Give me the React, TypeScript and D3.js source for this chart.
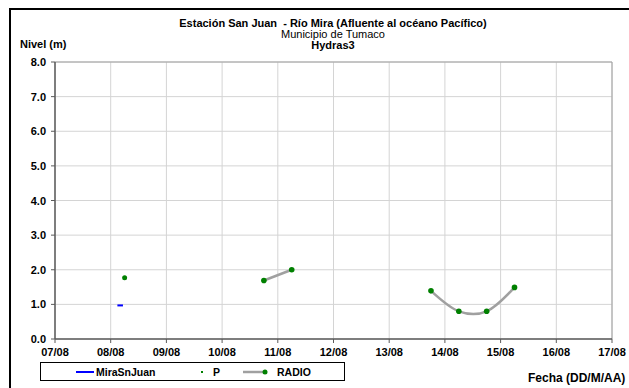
import React from "react";
import * as d3 from "d3";

const yTicks = [0, 1, 2, 3, 4, 5, 6, 7, 8];
const xTickLabels = ["07/08", "08/08", "09/08", "10/08", "11/08", "12/08", "13/08", "14/08", "15/08", "16/08", "17/08"];
// times in days since 07/08 00:00
const miraTimes = [1.12, 1.22];
const miraValues = [0.97, 0.97];
const pTimes = [1.25];
const pValues = [1.77];
const radioSeg1Times = [3.75, 4.25];
const radioSeg1Values = [1.69, 2.0];
const radioSeg2Times = [6.75, 7.25, 7.75, 8.25];
const radioSeg2Values = [1.39, 0.8, 0.8, 1.49];

const FONT = "'Liberation Sans', Arial, sans-serif";

export default function App() {
  const x = d3.scaleLinear().domain([0, 10]).range([55, 612]);
  const y = d3.scaleLinear().domain([0, 8]).range([339, 62]);
  const line = d3.line<[number, number]>().x((d) => x(d[0])).y((d) => y(d[1]));
  const smooth = d3
    .line<[number, number]>()
    .x((d) => x(d[0]))
    .y((d) => y(d[1]))
    .curve(d3.curveCardinal.tension(0));
  const seg1 = radioSeg1Times.map((t, i) => [t, radioSeg1Values[i]] as [number, number]);
  const seg2 = radioSeg2Times.map((t, i) => [t, radioSeg2Values[i]] as [number, number]);
  const mira = miraTimes.map((t, i) => [t, miraValues[i]] as [number, number]);

  return (
    <svg width={629} height={388} style={{ position: "absolute", left: 0, top: 0, fontFamily: FONT }}>
      <rect x={0} y={0} width={629} height={388} fill="#fff" />
      {/* outer border */}
      <path d="M10,400 L10,9 L640,9" fill="none" stroke="#000" strokeWidth={2} />
      {/* titles */}
      <text x={333} y={27} textAnchor="middle" fontSize={11} fontWeight="bold" style={{ whiteSpace: "pre" }}>
        {"Estación San Juan  - Río Mira (Afluente al océano Pacífico)"}
      </text>
      <text x={333} y={38} textAnchor="middle" fontSize={11}>
        Municipio de Tumaco
      </text>
      <text x={333} y={49} textAnchor="middle" fontSize={11} fontWeight="bold">
        Hydras3
      </text>
      <text x={20} y={48} fontSize={11} fontWeight="bold">
        Nivel (m)
      </text>
      {/* gridlines */}
      {yTicks.map((v) => (
        <line key={"gy" + v} x1={x(0)} x2={x(10)} y1={y(v)} y2={y(v)} stroke="#d4d4d4" strokeWidth={1} />
      ))}
      {xTickLabels.map((_, i) => (
        <line key={"gx" + i} x1={x(i)} x2={x(i)} y1={y(0)} y2={y(8)} stroke="#d4d4d4" strokeWidth={1} />
      ))}
      {/* plot frame top/right */}
      <path d={`M${x(0)},${y(8)} L${x(10)},${y(8)} L${x(10)},${y(0)}`} fill="none" stroke="#a0a0a0" strokeWidth={1} />
      {/* axes */}
      <line x1={x(0)} x2={x(0)} y1={y(0)} y2={y(8)} stroke="#5a5a5a" strokeWidth={1.5} />
      <line x1={x(0)} x2={x(10)} y1={y(0)} y2={y(0)} stroke="#5a5a5a" strokeWidth={1.5} />
      {yTicks.map((v) => (
        <g key={"ty" + v}>
          <line x1={x(0) - 4} x2={x(0)} y1={y(v)} y2={y(v)} stroke="#5a5a5a" strokeWidth={1} />
          <text x={x(0) - 9} y={y(v) + 4} textAnchor="end" fontSize={11} fontWeight="bold">
            {v.toFixed(1)}
          </text>
        </g>
      ))}
      {xTickLabels.map((lab, i) => (
        <g key={"tx" + i}>
          <line x1={x(i)} x2={x(i)} y1={y(0)} y2={y(0) + 4} stroke="#5a5a5a" strokeWidth={1} />
          <text x={x(i)} y={y(0) + 17} textAnchor="middle" fontSize={11} fontWeight="bold">
            {lab}
          </text>
        </g>
      ))}
      {/* series */}
      <path d={line(mira) || ""} fill="none" stroke="#0000ff" strokeWidth={2} />
      {pTimes.map((t, i) => (
        <circle key={"p" + i} cx={x(t)} cy={y(pValues[i])} r={2.5} fill="#008000" />
      ))}
      <path d={smooth(seg1) || ""} fill="none" stroke="#a0a0a0" strokeWidth={2.5} />
      <path d={smooth(seg2) || ""} fill="none" stroke="#a0a0a0" strokeWidth={2.5} />
      {[...seg1, ...seg2].map((d, i) => (
        <circle key={"r" + i} cx={x(d[0])} cy={y(d[1])} r={2.8} fill="#008000" />
      ))}
      {/* legend */}
      <rect x={40.5} y={362.5} width={304} height={18} fill="#fff" stroke="#000" strokeWidth={1} />
      <line x1={76} x2={94} y1={372} y2={372} stroke="#0000ff" strokeWidth={2} />
      <text x={96} y={376} fontSize={10.5} fontWeight="bold">MiraSnJuan</text>
      <rect x={201} y={371} width={2} height={2} fill="#008000" />
      <text x={213} y={376} fontSize={10.5} fontWeight="bold">P</text>
      <line x1={243} x2={266} y1={372} y2={372} stroke="#a0a0a0" strokeWidth={2.5} />
      <circle cx={265} cy={372} r={2.5} fill="#008000" />
      <text x={277} y={376} fontSize={10.5} fontWeight="bold">RADIO</text>
      <text x={528} y={382} fontSize={12} fontWeight="bold">Fecha (DD/M/AA)</text>
    </svg>
  );
}
